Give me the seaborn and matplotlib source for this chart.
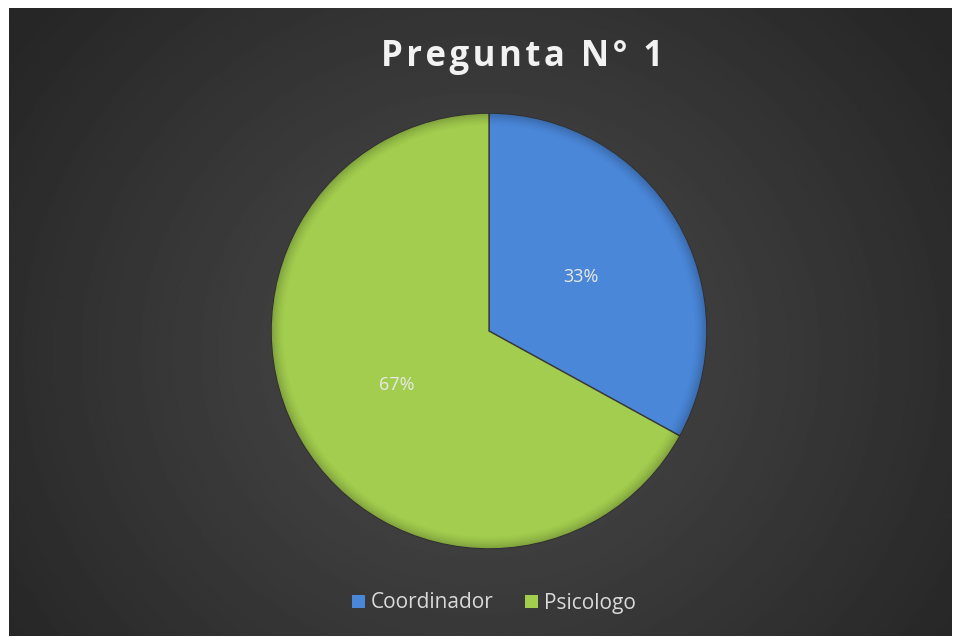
import numpy as np
import matplotlib
matplotlib.use('Agg')
import matplotlib.pyplot as plt
import seaborn as sns
from matplotlib.patches import Rectangle

# Data
categories = ['Coordinador', 'Psicologo']
shares = [33, 67]
slice_colors = ['#4a87d9', '#a2cd4e']
title_text = 'Pregunta N° 1'

sns.set_theme(style='white')
plt.rcParams['font.family'] = ['Open Sans', 'DejaVu Sans']

fig = plt.figure(figsize=(9.54, 6.37), dpi=100)
fig.patch.set_facecolor('white')

# dark radial-gradient panel behind the chart
bg = fig.add_axes([9 / 954, 1 - 636 / 637, 943 / 954, 628 / 637])
bg.set_axis_off()
yy, xx = np.mgrid[0:1:300j, 0:1:450j]
dist = np.sqrt(((xx - 0.5) * 1.4) ** 2 + (yy - 0.55) ** 2)
shade = 0.30 - 0.15 * np.clip(dist / 0.85, 0, 1)
bg.imshow(shade, cmap='gray', vmin=0, vmax=1, aspect='auto',
          extent=[0, 1, 0, 1], interpolation='bilinear')

# pie axes: centre ~ (489, 331), radius ~ 219 px
r = 219
cx, cy = 489, 331
ax = fig.add_axes([(cx - r) / 954, 1 - (cy + r) / 637, 2 * r / 954, 2 * r / 637])
ax.set_facecolor('none')
wedges, texts, autotexts = ax.pie(
    shares, colors=slice_colors, startangle=90, counterclock=False,
    autopct='%.0f%%', pctdistance=0.49,
    wedgeprops=dict(edgecolor='#3a3a3a', linewidth=1.0),
    textprops=dict(color='#e8e8e8', fontsize=13))

# subtle bevel shading near the rim of each slice
gy, gx = np.mgrid[-1:1:400j, -1:1:400j]
rad = np.sqrt(gx ** 2 + gy ** 2)
rim = np.clip((rad - 0.94) / 0.06, 0, 1) ** 1.5 * 0.22
for w in wedges:
    overlay = np.zeros((400, 400, 4))
    overlay[..., 3] = rim
    im = ax.imshow(overlay, extent=[-1, 1, -1, 1], origin='lower',
                   zorder=w.get_zorder() + 0.1, interpolation='bilinear')
    im.set_clip_path(w)
for t in autotexts:
    t.set_zorder(5)
ax.set_xlim(-1.005, 1.005)
ax.set_ylim(-1.005, 1.005)
ax.set_aspect('equal')
ax.set_axis_off()

spaced_title = '\u200a'.join(title_text)
fig.text(522 / 954, 1 - 57 / 637, spaced_title,
         ha='center', va='center', color='#f2f2f2', fontsize=25, fontweight='bold')

handles = [Rectangle((0, 0), 1, 1, facecolor=c, edgecolor='none') for c in slice_colors]
leg = fig.legend(handles, categories, loc='center', bbox_to_anchor=(494 / 954, 1 - 603 / 637),
                 ncol=2, frameon=False, fontsize=15, handlelength=0.6, handleheight=0.6,
                 handletextpad=0.3, columnspacing=1.5)
for t in leg.get_texts():
    t.set_color('#d9d9d9')

fig.savefig('out.png', dpi=100, facecolor='white')
